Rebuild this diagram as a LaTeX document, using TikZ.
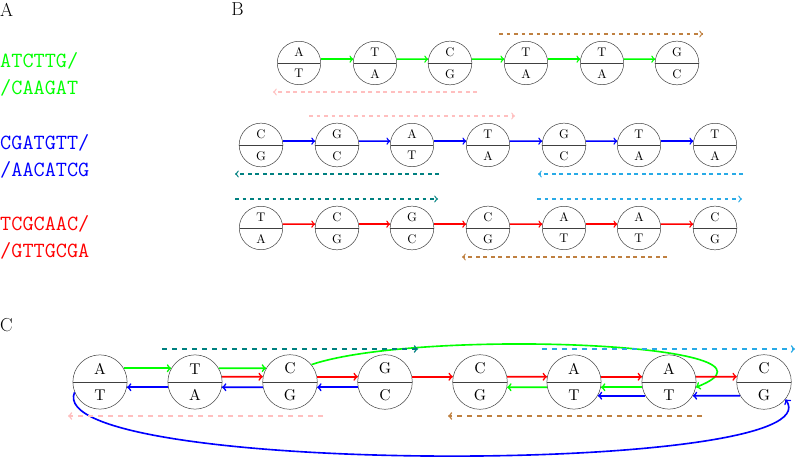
\documentclass[tikz,border=0pt]{standalone}
\usetikzlibrary{shapes.multipart}
\definecolor{skyblue}{RGB}{40,170,230}
\tikzset{
    pairnode/.style={circle split,draw=black!75,thin,minimum size=10pt,inner xsep=0pt,inner ysep=4.8pt},
    bigpair/.style={pairnode,scale=1.25},
    panellabel/.style={anchor=base west,inner sep=0pt,font=\fontsize{15}{18}\selectfont},
    seqtext/.style={anchor=base west,inner sep=0pt,font=\fontsize{17.3}{20}\selectfont\ttfamily},
    link/.style={->,line width=1.1pt},
    biglink/.style={->,line width=1.3pt},
    readvec/.style={->,line width=1pt,dashed},
    bigread/.style={->,line width=1.2pt,dash pattern=on 4pt off 4pt}
}

\begin{document}
\begin{tikzpicture}[x=0.8pt,y=0.8pt]
    \useasboundingbox (0,0) rectangle (797,458);
    % Panel A: the three sequences
    \node[panellabel] (la) at (0,441) {A};
    \node[seqtext,green] (sg1) at (0,390) {ATCTTG/};
    \node[seqtext,green] (sg2) at (0,363) {/CAAGAT};
    \node[seqtext,blue] (sb1) at (0,308) {CGATGTT/};
    \node[seqtext,blue] (sb2) at (0,281) {/AACATCG};
    \node[seqtext,red] (sr1) at (0,227) {TCGCAAC/};
    \node[seqtext,red] (sr2) at (0,200) {/GTTGCGA};

    % Panel B
    \node[panellabel] (lb) at (231,442) {B};
    % green graph
    \node[pairnode] (g1) at (299,395) {A \nodepart{lower} T};
    \node[pairnode] (g2) at (375,395) {T \nodepart{lower} A};
    \node[pairnode] (g3) at (450,395) {C \nodepart{lower} G};
    \node[pairnode] (g4) at (526,395) {T \nodepart{lower} A};
    \node[pairnode] (g5) at (602,395) {T \nodepart{lower} A};
    \node[pairnode] (g6) at (677,395) {G \nodepart{lower} C};
    \draw[link,green] (g1.10) -- (g2.170);
    \draw[link,green] (g2.10) -- (g3.170);
    \draw[link,green] (g3.10) -- (g4.170);
    \draw[link,green] (g4.10) -- (g5.170);
    \draw[link,green] (g5.10) -- (g6.170);
    \draw[readvec,brown] (499,424) -- (703,424);
    \draw[readvec,pink] (477,366) -- (273,366);
    % blue graph
    \node[pairnode] (b1) at (261,313) {C \nodepart{lower} G};
    \node[pairnode] (b2) at (337,313) {G \nodepart{lower} C};
    \node[pairnode] (b3) at (412,313) {A \nodepart{lower} T};
    \node[pairnode] (b4) at (488,313) {T \nodepart{lower} A};
    \node[pairnode] (b5) at (564,313) {G \nodepart{lower} C};
    \node[pairnode] (b6) at (639,313) {T \nodepart{lower} A};
    \node[pairnode] (b7) at (715,313) {T \nodepart{lower} A};
    \draw[link,blue] (b1.10) -- (b2.170);
    \draw[link,blue] (b2.10) -- (b3.170);
    \draw[link,blue] (b3.10) -- (b4.170);
    \draw[link,blue] (b4.10) -- (b5.170);
    \draw[link,blue] (b5.10) -- (b6.170);
    \draw[link,blue] (b6.10) -- (b7.170);
    \draw[readvec,pink] (309,342) -- (515,342);
    \draw[readvec,teal] (439,284) -- (235,284);
    \draw[readvec,skyblue] (743,284) -- (538,284);
    % red graph
    \node[pairnode] (r1) at (261,230) {T \nodepart{lower} A};
    \node[pairnode] (r2) at (337,230) {C \nodepart{lower} G};
    \node[pairnode] (r3) at (412,230) {G \nodepart{lower} C};
    \node[pairnode] (r4) at (488,230) {C \nodepart{lower} G};
    \node[pairnode] (r5) at (564,230) {A \nodepart{lower} T};
    \node[pairnode] (r6) at (639,230) {A \nodepart{lower} T};
    \node[pairnode] (r7) at (715,230) {C \nodepart{lower} G};
    \draw[link,red] (r1.10) -- (r2.170);
    \draw[link,red] (r2.10) -- (r3.170);
    \draw[link,red] (r3.10) -- (r4.170);
    \draw[link,red] (r4.10) -- (r5.170);
    \draw[link,red] (r5.10) -- (r6.170);
    \draw[link,red] (r6.10) -- (r7.170);
    \draw[readvec,teal] (235,259) -- (438,259);
    \draw[readvec,skyblue] (537,259) -- (742,259);
    \draw[readvec,brown] (667,201) -- (462,201);

    % Panel C: merged graph
    \node[panellabel] (lc) at (0,126) {C};
    \node[bigpair] (c1) at (100,76) {A \nodepart{lower} T};
    \node[bigpair] (c2) at (195,76) {T \nodepart{lower} A};
    \node[bigpair] (c3) at (290,76) {C \nodepart{lower} G};
    \node[bigpair] (c4) at (385,76) {G \nodepart{lower} C};
    \node[bigpair] (c5) at (480,76) {C \nodepart{lower} G};
    \node[bigpair] (c6) at (574,76) {A \nodepart{lower} T};
    \node[bigpair] (c7) at (669,76) {A \nodepart{lower} T};
    \node[bigpair] (c8) at (764,76) {C \nodepart{lower} G};
    % green path
    \draw[biglink,green] (c1.30) -- (c2.150);
    \draw[biglink,green] (c2.30) -- (c3.150);
    \draw[biglink,green] (c3.39) .. controls (420,130) and (810,115) .. (c7.349);
    \draw[biglink,green] (c7.191) -- (c6.349);
    \draw[biglink,green] (c6.191) -- (c5.349);
    % red path
    \draw[biglink,red] (c2.11) -- (c3.169);
    \draw[biglink,red] (c3.11) -- (c4.169);
    \draw[biglink,red] (c4.11) -- (c5.169);
    \draw[biglink,red] (c5.11) -- (c6.169);
    \draw[biglink,red] (c6.11) -- (c7.169);
    \draw[biglink,red] (c7.11) -- (c8.169);
    % blue path
    \draw[biglink,blue] (c8.210) -- (c7.330);
    \draw[biglink,blue] (c7.210) -- (c6.330);
    \draw[biglink,blue] (c4.191) -- (c3.349);
    \draw[biglink,blue] (c3.191) -- (c2.349);
    \draw[biglink,blue] (c2.191) -- (c1.349);
    \draw[biglink,blue] (c1.202) .. controls (40,-18) and (840,-18) .. (c8.321);
    % reads
    \draw[bigread,teal] (162,109) -- (418,109);
    \draw[bigread,skyblue] (542,109) -- (795,109);
    \draw[bigread,pink] (323,42) -- (68,42);
    \draw[bigread,brown] (702,42) -- (448,42);
\end{tikzpicture}
\end{document}
